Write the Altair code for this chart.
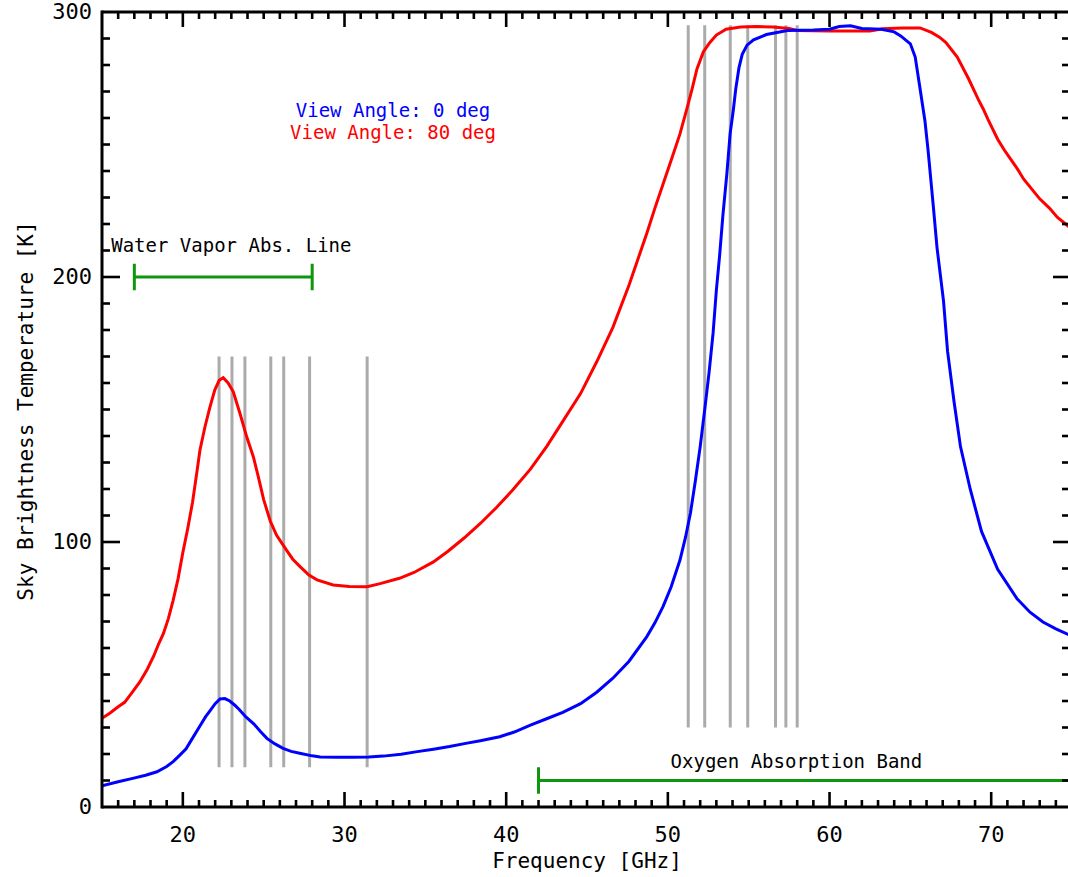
import altair as alt
import pandas as pd

# ---------------- data ----------------
# View angle 0 deg (blue)
freq_0deg = [15.0, 16.0, 16.9, 17.7, 18.4, 19.0, 19.4, 19.8, 20.2, 20.6, 21.0, 21.4, 21.7,
             22.0, 22.3, 22.6, 22.9, 23.2, 23.5, 23.9, 24.4, 24.8, 25.2, 25.7, 26.2, 26.7,
             27.3, 28.0, 28.5, 29.5, 30.5, 31.5, 32.4, 33.5, 34.5, 35.5, 36.5, 37.5, 38.4,
             39.6, 40.5, 41.5, 42.5, 43.5, 44.6, 45.6, 46.6, 47.6, 48.7, 49.2, 49.7, 50.2,
             50.75, 51.1, 51.4, 51.7, 52.0, 52.3, 52.55, 52.8, 53.0, 53.2, 53.4, 53.65,
             53.85, 54.05, 54.2, 54.4, 54.6, 54.9, 55.3, 56.1, 57.4, 59.0, 60.0, 60.6, 61.3,
             62.0, 63.2, 64.0, 64.4, 65.0, 65.3, 65.6, 65.9, 66.1, 66.4, 66.65, 67.05, 67.3,
             67.7, 68.1, 68.7, 69.4, 70.4, 71.6, 72.4, 73.2, 74.0, 75.0]
tb_0deg = [8.0, 9.5, 10.8, 12.0, 13.3, 15.3, 17.1, 19.5, 22.0, 26.0, 30.0, 34.0, 36.5,
           39.0, 40.8, 40.9, 40.0, 38.5, 36.7, 34.0, 31.3, 28.5, 25.9, 23.8, 22.1, 21.0,
           20.2, 19.3, 18.9, 18.8, 18.8, 18.9, 19.2, 19.9, 20.9, 21.8, 22.8, 24.0, 25.0,
           26.5, 28.3, 30.9, 33.3, 35.7, 39.0, 43.3, 48.6, 55.0, 64.3, 69.5, 75.6, 83.0,
           93.2, 102.0, 111.0, 123.0, 136.0, 151.0, 164.0, 179.0, 195.0, 208.0, 223.0, 239.0,
           254.0, 263.0, 271.0, 279.0, 284.0, 287.5, 289.5, 291.5, 293.0, 293.2, 293.5, 294.5, 294.8,
           293.8, 293.5, 292.5, 291.0, 288.0, 283.0, 271.0, 259.0, 247.5, 228.0, 211.0, 191.0, 172.0,
           153.0, 136.0, 120.0, 104.0, 89.7, 78.6, 73.5, 69.8, 67.2, 64.5]

# View angle 80 deg (red)
freq_80deg = [15.0, 15.5, 16.0, 16.4, 16.9, 17.35, 17.8, 18.2, 18.5, 18.8, 19.1, 19.4, 19.7,
              20.0, 20.3, 20.6, 20.86, 21.06, 21.37, 21.68, 21.98, 22.25, 22.5, 22.8, 23.12,
              23.53, 23.95, 24.36, 24.67, 25.0, 25.4, 25.8, 26.4, 26.8, 27.25, 27.8, 28.3,
              29.3, 30.3, 31.4, 32.2, 33.4, 34.3, 35.5, 36.4, 37.4, 38.4, 39.4, 40.4, 41.5,
              42.5, 43.5, 44.6, 45.6, 46.6, 47.6, 48.7, 49.2, 49.7, 50.2, 50.75, 51.2, 51.5,
              51.8, 52.2, 52.6, 53.0, 53.6, 54.5, 55.5, 56.5, 57.5, 58.0, 60.0, 62.5, 63.3,
              64.5, 65.6, 66.3, 66.8, 67.2, 67.9, 68.6, 69.2, 69.5, 69.8, 70.4, 70.8, 71.2,
              71.6, 72.0, 72.6, 73.0, 73.6, 74.1, 75.0]
tb_80deg = [33.5, 35.5, 37.8, 39.5, 43.5, 47.3, 52.0, 57.0, 61.5, 65.5, 71.0, 78.0, 86.0,
            96.0, 105.0, 115.0, 126.0, 134.7, 143.5, 151.0, 157.4, 161.0, 162.0, 160.0, 156.7,
            148.6, 139.7, 132.2, 124.6, 116.0, 108.0, 102.5, 97.0, 93.5, 90.7, 87.5, 85.7,
            83.8, 83.2, 83.1, 84.3, 86.3, 88.5, 92.5, 96.5, 101.5, 107.0, 113.0, 119.6, 127.5,
            136.0, 145.5, 156.0, 168.0, 181.0, 197.0, 216.5, 226.0, 235.0, 244.0, 254.0, 264.0, 271.0,
            278.5, 285.0, 288.5, 291.3, 293.5, 294.3, 294.5, 294.3, 293.8, 293.0, 292.8, 292.8, 293.7,
            294.0, 294.0, 292.3, 290.5, 288.5, 283.0, 274.8, 267.0, 263.5, 259.5, 252.0, 248.0, 244.5,
            241.0, 237.0, 232.5, 229.5, 226.0, 222.5, 218.0]

# Radiometer channels (grey lines)
wv_channels = [22.24, 23.04, 23.84, 25.44, 26.24, 27.84, 31.40]
wv_range = [15, 170]
o2_channels = [51.26, 52.28, 53.86, 54.94, 56.66, 57.30, 58.00]
o2_range = [30, 295]

# Green band markers
band_names = ["Water Vapor Abs. Line", "Oxygen Absorption Band"]
band_start = [17, 42]
band_end = [28, 75]
band_level = [200, 10]
cap_half = 5

# Annotations
ann_text = ["Water Vapor Abs. Line", "Oxygen Absorption Band", "View Angle: 0 deg", "View Angle: 80 deg"]
ann_x = [23.0, 57.95, 33.0, 33.0]
ann_y = [209.5, 14.8, 260.3, 252.0]
ann_color = ["#000000", "#000000", "#0000ff", "#ff0000"]

# Axis ticks / labels
x_labels = [20, 30, 40, 50, 60, 70]
x_minor = [v for v in range(16, 75) if v % 10 != 0]
y_labels = [0, 100, 200, 300]
y_major_inner = [100, 200]
y_minor = [v for v in range(10, 300, 10) if v % 100 != 0]
x_title = "Frequency [GHz]"
y_title = "Sky Brightness Temperature [K]"

# ---------------- chart ----------------
W, H = 966, 795
FONT = "DejaVu Sans Mono"
XMIN, XMAX, YMAX = 15, 74.75, 300
xscale = alt.Scale(domain=[XMIN, XMAX], nice=False, zero=False)
yscale = alt.Scale(domain=[0, YMAX], nice=False, zero=False)
PX_X = (XMAX - XMIN) / W   # data units per pixel, x
PX_Y = YMAX / H            # data units per pixel, y


def X(field):
    return alt.X(field, scale=xscale, axis=None)


def Y(field):
    return alt.Y(field, scale=yscale, axis=None)


chan_df = pd.DataFrame({
    "f": wv_channels + o2_channels,
    "y1": [wv_range[0]] * len(wv_channels) + [o2_range[0]] * len(o2_channels),
    "y2": [wv_range[1]] * len(wv_channels) + [o2_range[1]] * len(o2_channels),
})
chan = alt.Chart(chan_df).mark_rule(color="#ababab", strokeWidth=3).encode(
    x=X("f:Q"), y=Y("y1:Q"), y2="y2:Q",
)

curves = pd.concat([
    pd.DataFrame({"f": freq_80deg, "t": tb_80deg, "series": "80 deg"}),
    pd.DataFrame({"f": freq_0deg, "t": tb_0deg, "series": "0 deg"}),
])
lines = alt.Chart(curves).mark_line(strokeWidth=3, clip=True).encode(
    x=X("f:Q"),
    y=Y("t:Q"),
    color=alt.Color("series:N", scale=alt.Scale(domain=["80 deg", "0 deg"], range=["#ff0000", "#0000ff"]),
                    legend=None),
    detail="series:N",
)

bands_df = pd.DataFrame({"name": band_names, "x1": band_start, "x2": band_end, "y": band_level,
                         "ylo": [v - cap_half for v in band_level], "yhi": [v + cap_half for v in band_level]})
GREEN = "#0f960f"
band_h = alt.Chart(bands_df).mark_rule(color=GREEN, strokeWidth=3, clip=True).encode(
    x=X("x1:Q"), x2="x2:Q", y=Y("y:Q"),
)
band_l = alt.Chart(bands_df).mark_rule(color=GREEN, strokeWidth=3, clip=True).encode(
    x=X("x1:Q"), y=Y("ylo:Q"), y2="yhi:Q",
)
band_r = alt.Chart(bands_df).mark_rule(color=GREEN, strokeWidth=3, clip=True).encode(
    x=X("x2:Q"), y=Y("ylo:Q"), y2="yhi:Q",
)

ann_df = pd.DataFrame({"text": ann_text, "x": ann_x, "y": ann_y, "c": ann_color})
ann = alt.Chart(ann_df).mark_text(font=FONT, fontSize=19, align="center", baseline="alphabetic").encode(
    x=X("x:Q"), y=Y("y:Q"),
    text="text:N",
    color=alt.Color("c:N", scale=None, legend=None),
)

# inward ticks (IDL style)
TW = 2.6
xmaj = pd.DataFrame({"f": x_labels})
xmin = pd.DataFrame({"f": x_minor})
ymaj = pd.DataFrame({"t": y_major_inner})
ymin = pd.DataFrame({"t": y_minor})


def xticks_bottom_rect(df, length):
    # filled thin rectangles standing on the bottom frame
    return alt.Chart(df).mark_rect(color="black", opacity=1).transform_calculate(
        xa=f"datum.f - {TW / 2 * PX_X}", xb=f"datum.f + {TW / 2 * PX_X}",
        ya="0", yb=f"{length * PX_Y}",
    ).encode(x=X("xa:Q"), x2="xb:Q", y=Y("ya:Q"), y2="yb:Q")


def xticks_top(df, length):
    return alt.Chart(df).mark_rule(color="black", strokeWidth=TW).encode(
        x=X("f:Q"), y=alt.value(0), y2=alt.value(length))


def yticks(df, x0, x1):
    return alt.Chart(df).mark_rule(color="black", strokeWidth=TW).encode(
        y=Y("t:Q"), x=alt.value(x0), x2=alt.value(x1))


ticks = [
    xticks_top(xmaj, 15), xticks_top(xmin, 7),
    yticks(ymaj, 0, 18), yticks(ymin, 0, 8),
    yticks(ymaj, W - 15, W), yticks(ymin, W - 6, W),
]

frame_df = pd.DataFrame({"edge": ["frame"]})
frame = [
    alt.Chart(frame_df).mark_rule(color="black", strokeWidth=3).encode(
        x=alt.value(0), x2=alt.value(W), y=alt.value(0)),
    alt.Chart(frame_df).mark_rule(color="black", strokeWidth=3).encode(
        x=alt.value(0), x2=alt.value(W), y=alt.value(H)),
    alt.Chart(frame_df).mark_rule(color="black", strokeWidth=3).encode(
        x=alt.value(0), y=alt.value(-1.5), y2=alt.value(H + 1.5)),
]

xlab_df = pd.DataFrame({"v": x_labels})
ylab_df = pd.DataFrame({"v": y_labels})
xlab = alt.Chart(xlab_df).mark_text(font=FONT, fontSize=22, align="center", baseline="alphabetic",
                                    color="black").encode(
    x=X("v:Q"), y=alt.value(H + 35), text=alt.Text("v:Q", format="d"))
ylab = alt.Chart(ylab_df).mark_text(font=FONT, fontSize=22, align="right", baseline="middle",
                                    color="black").encode(
    y=Y("v:Q"), x=alt.value(-10), text=alt.Text("v:Q", format="d"))
titles_df = pd.DataFrame({"t": [x_title]})
xtitle = alt.Chart(titles_df).mark_text(font=FONT, fontSize=21, align="center", baseline="alphabetic",
                                        color="black").encode(
    x=alt.value(485), y=alt.value(H + 61), text="t:N")
ytitles_df = pd.DataFrame({"t": [y_title]})
ytitle = alt.Chart(ytitles_df).mark_text(font=FONT, fontSize=21, align="center", baseline="alphabetic",
                                         angle=270, color="black").encode(
    x=alt.value(-69), y=alt.value(399), text="t:N")

chart = alt.layer(chan, lines, band_h, band_l, band_r, ann, *ticks, *frame,
                  xlab, ylab, xtitle, ytitle,
                  xticks_bottom_rect(xmaj, 15), xticks_bottom_rect(xmin, 7)).properties(
    width=W, height=H,
    autosize=alt.AutoSizeParams(type="none"),
    padding={"left": 102, "top": 12, "right": 0, "bottom": 65},
    background="white",
).configure_view(stroke=None)

chart.save("out.html", embed_options={"renderer": "svg", "actions": False})
